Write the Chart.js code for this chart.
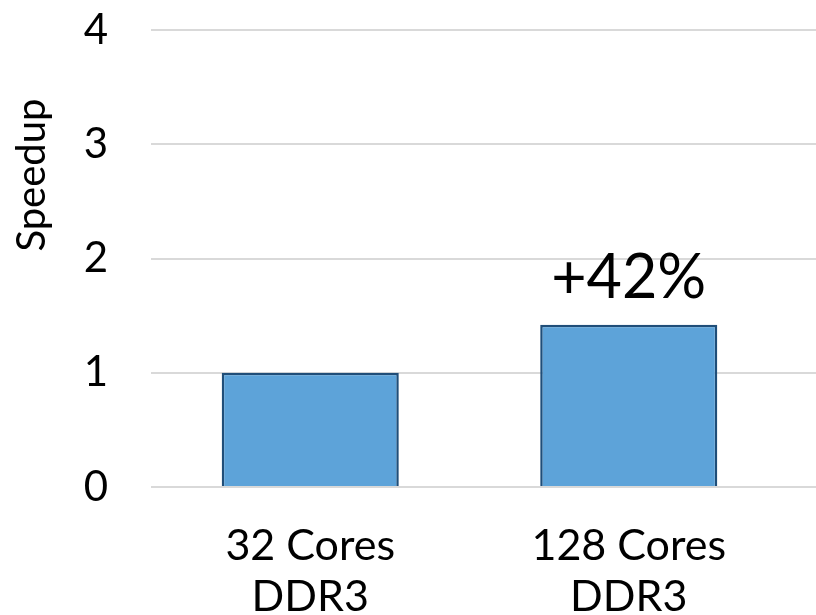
<!DOCTYPE html>
<html>
<head>
<meta charset="utf-8">
<script src="https://cdn.jsdelivr.net/npm/chart.js@4.4.1/dist/chart.umd.min.js"></script>
<style>
  html, body { margin: 0; padding: 0; background: #ffffff; }
  #wrap { width: 816px; height: 615px; }
</style>
</head>
<body>
<div id="wrap"><canvas id="c" width="816" height="615"></canvas></div>
<script>
const categories = [["32 Cores", "DDR3"], ["128 Cores", "DDR3"]];
const speedup = [1.0, 1.42];
const barLabels = ["", "+42%"];
const yTicks = [0, 1, 2, 3, 4];
const yTitle = "Speedup";

const FONT = "Lato, 'Open Sans', 'Liberation Sans', sans-serif";

const extrasPlugin = {
  id: 'extras',
  beforeDatasetsDraw(chart) {
    const ctx = chart.ctx;
    const y = chart.scales.y;
    const a = chart.chartArea;
    ctx.save();
    ctx.strokeStyle = '#D9D9D9';
    ctx.lineWidth = 2;
    yTicks.forEach(v => {
      const py = Math.round(y.getPixelForValue(v));
      ctx.beginPath();
      ctx.moveTo(a.right - 1, py);
      ctx.lineTo(chart.width, py);
      ctx.stroke();
    });
    ctx.restore();
  },
  afterDraw(chart) {
    const ctx = chart.ctx;
    const meta = chart.getDatasetMeta(0);
    ctx.save();
    ctx.fillStyle = '#000000';
    ctx.font = "61px " + FONT;
    ctx.textAlign = 'center';
    ctx.textBaseline = 'alphabetic';
    meta.data.forEach((bar, i) => {
      if (barLabels[i]) ctx.fillText(barLabels[i], bar.x, bar.y - 27);
    });
    ctx.font = "40px " + FONT;
    ctx.translate(32, chart.scales.y.getPixelForValue(2.73));
    ctx.rotate(-Math.PI / 2);
    ctx.textBaseline = 'middle';
    ctx.fillText(yTitle, 0, 0);
    ctx.restore();
  }
};

new Chart(document.getElementById('c'), {
  type: 'bar',
  data: {
    labels: categories,
    datasets: [{
      data: speedup,
      backgroundColor: '#5DA3D9',
      borderColor: '#1F4E79',
      borderWidth: 2.5,
      categoryPercentage: 1.0,
      barPercentage: 0.556
    }]
  },
  options: {
    responsive: false,
    animation: false,
    devicePixelRatio: 1,
    layout: { padding: { top: 30, right: 28, left: 0, bottom: 0 } },
    plugins: { legend: { display: false }, tooltip: { enabled: false } },
    scales: {
      x: {
        grid: { display: false, drawTicks: false },
        border: { display: false },
        ticks: {
          color: '#000000',
          font: { family: FONT, size: 43, lineHeight: 1.2 },
          padding: 33,
          maxRotation: 0,
          autoSkip: false
        },
        afterFit(scale) { scale.height = 128; }
      },
      y: {
        min: 0,
        max: 4,
        grid: { color: '#D9D9D9', lineWidth: 2, drawTicks: false },
        border: { display: false },
        ticks: {
          stepSize: 1,
          color: '#000000',
          font: { family: FONT, size: 42 },
          padding: 43
        },
        afterFit(scale) {
          scale.width = 151;
          scale.paddingTop = 0;
          scale.paddingBottom = 0;
        }
      }
    }
  },
  plugins: [extrasPlugin]
});
</script>
</body>
</html>
